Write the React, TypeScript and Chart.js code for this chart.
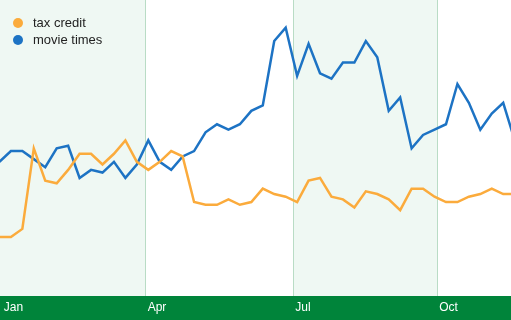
import React, { useEffect, useRef } from "react";
import { Chart, registerables } from "chart.js";

Chart.register(...registerables);

// ---- data (weekly values) ----
const seriesNames = ["tax credit", "movie times"];
const taxCredit = [
  22, 22, 25, 55, 43, 42, 47, 53, 53, 49, 53, 58, 50, 47, 50, 54, 52, 35, 34, 34, 36, 34, 35,
  40, 38, 37, 35, 43, 44, 37, 36, 33, 39, 38, 36, 32, 40, 40, 37, 35, 35, 37, 38, 40, 38, 38,
];
const movieTimes = [
  50, 54, 54, 51, 48, 55, 56, 44, 47, 46, 50, 44, 49, 58, 50, 47, 52, 54, 61, 64, 62, 64, 69,
  71, 95, 100, 82, 94, 83, 81, 87, 87, 95, 89, 69, 74, 55, 60, 62, 64, 79, 72, 62, 68, 72, 58,
];
const monthLabels = ["Jan", "Apr", "Jul", "Oct"];
// month boundaries expressed in week units
const monthWeeks = [0.2, 12.77, 25.66, 38.24];
const xMin = 0.048;
const xMax = 44.68;
const yMax = 110.3;

// ---- styles ----
const COLORS = ["#fbab3c", "#1d73c4"];
const BAND = "#eff8f3";
const GRID = "#b9dcc5";
const GREEN = "#00843a";
const FONT = "'Liberation Sans', Arial, Helvetica, sans-serif";

const bandsPlugin = {
  id: "quarterBands",
  beforeDraw(chart: any) {
    const { ctx, chartArea, scales } = chart;
    const x = scales.x;
    ctx.save();
    ctx.fillStyle = BAND;
    const pairs = [
      [0, 1],
      [2, 3],
    ];
    for (const [a, b] of pairs) {
      const x0 = a === 0 ? chartArea.left : Math.round(x.getPixelForValue(monthWeeks[a]));
      const x1 = Math.round(x.getPixelForValue(monthWeeks[b]));
      ctx.fillRect(x0, chartArea.top, x1 - x0, chartArea.bottom - chartArea.top);
    }
    ctx.restore();
  },
};

export default function App() {
  const canvasRef = useRef<HTMLCanvasElement | null>(null);

  useEffect(() => {
    document.body.style.margin = "0";
    const canvas = canvasRef.current;
    if (!canvas) return;
    const chart = new Chart(canvas, {
      type: "line",
      data: {
        datasets: [
          {
            label: seriesNames[0],
            data: taxCredit.map((v, i) => ({ x: i, y: v })),
            borderColor: COLORS[0],
            backgroundColor: COLORS[0],
            borderWidth: 2.5,
            pointRadius: 0,
            tension: 0,
          },
          {
            label: seriesNames[1],
            data: movieTimes.map((v, i) => ({ x: i, y: v })),
            borderColor: COLORS[1],
            backgroundColor: COLORS[1],
            borderWidth: 2.5,
            pointRadius: 0,
            tension: 0,
          },
        ],
      },
      options: {
        responsive: false,
        animation: false,
        devicePixelRatio: 1,
        layout: { padding: 0 },
        plugins: {
          legend: { display: false },
          tooltip: { enabled: false },
        },
        scales: {
          x: {
            type: "linear",
            min: xMin,
            max: xMax,
            backgroundColor: GREEN,
            border: { display: false },
            grid: {
              color: (c: any) => (c.index === 0 ? "rgba(0,0,0,0)" : GRID),
              drawTicks: false,
              lineWidth: 1,
            },
            afterBuildTicks: (s: any) => {
              s.ticks = monthWeeks.map((v) => ({ value: v }));
            },
            afterFit: (s: any) => {
              s.height = 24;
              s.paddingLeft = 0;
              s.paddingRight = 0;
            },
            ticks: {
              align: "start",
              padding: 4,
              labelOffset: 2,
              color: "#ffffff",
              autoSkip: false,
              maxRotation: 0,
              font: { family: FONT, size: 12 },
              callback: (_v: any, i: number) => monthLabels[i],
            },
          },
          y: {
            display: false,
            min: 0,
            max: yMax,
          },
        },
      },
      plugins: [bandsPlugin],
    });
    return () => chart.destroy();
  }, []);

  return (
    <div style={{ position: "relative", width: 511, height: 320 }}>
      <canvas ref={canvasRef} width={511} height={320} style={{ display: "block" }} />
      <div
        style={{
          position: "absolute",
          left: 13,
          top: 14,
          fontFamily: FONT,
          fontSize: 13,
          color: "#222",
        }}
      >
        {seriesNames.map((name, i) => (
          <div key={name} style={{ display: "flex", alignItems: "center", height: 17 }}>
            <span
              style={{
                display: "inline-block",
                width: 10,
                height: 10,
                borderRadius: "50%",
                background: COLORS[i],
                marginRight: 10,
              }}
            />
            <span>{name}</span>
          </div>
        ))}
      </div>
    </div>
  );
}
